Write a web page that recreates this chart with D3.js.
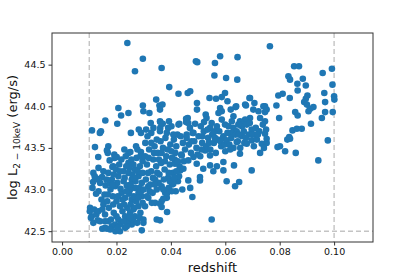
<!DOCTYPE html>
<html>
<head>
<meta charset="utf-8">
<script src="https://cdn.jsdelivr.net/npm/d3@7"></script>
<style>
  html, body { margin: 0; padding: 0; background: #fff; }
  svg { display: block; }
  text { font-family: "DejaVu Sans", sans-serif; }
</style>
</head>
<body>
<div id="chart"></div>
<script>
// ─── data (redshift, log L 2-10 keV) ───────────────────────────────
const sourcesLowZ = [
  [0.0240,44.76],[0.0268,44.42],[0.0297,44.57],
  [0.0207,43.98],[0.0217,43.89],[0.0244,43.92],[0.0159,43.83],[0.0203,43.79],[0.0297,44.01],[0.0299,43.94],
  [0.0110,43.71],[0.0139,43.68],[0.0143,43.70],[0.0253,43.68],[0.0290,43.68],[0.0282,43.72],
  [0.0121,43.51],[0.0170,43.52],[0.0168,43.44],[0.0133,43.39],[0.0201,43.39],[0.0165,43.47],[0.0229,43.48],[0.0244,43.44],[0.0251,43.45],
  [0.0134,43.26],[0.0115,43.20],[0.0121,43.12],[0.0140,43.08],[0.0134,42.98],[0.0156,42.94],[0.0114,43.09],[0.0129,43.13],
  [0.0120,43.16],[0.0112,43.02],[0.0125,42.95],[0.0147,43.15],[0.0152,43.22],[0.0160,43.05],
  [0.0103,42.78],[0.0109,42.68],[0.0115,42.60],[0.0102,42.74],[0.0106,42.66],[0.0118,42.76],[0.0126,42.70],[0.0131,42.63],
  [0.0170,43.20],[0.0183,43.12],[0.0195,43.04],[0.0207,43.16],[0.0225,43.22],[0.0244,43.32],[0.0244,43.20],[0.0256,43.12],
  [0.0268,43.24],[0.0281,43.16],[0.0293,43.08],[0.0268,43.02],[0.0281,42.96],
  [0.0219,42.96],[0.0232,42.90],[0.0256,42.88],[0.0293,42.92],[0.0281,42.80],[0.0268,42.68],
  [0.0133,42.74],[0.0152,42.82],[0.0158,42.70],[0.0140,42.62],[0.0170,42.62],[0.0183,42.56],[0.0158,42.54],[0.0195,42.58],
  [0.0207,42.64],[0.0232,42.68],[0.0250,42.72],[0.0232,42.54],[0.0256,42.58],
  [0.0213,42.50],[0.0293,42.51],[0.0299,42.60],[0.0299,42.64],[0.0148,42.53],[0.0165,42.53],[0.0177,42.52],
  [0.0175,43.35],[0.0188,43.28],[0.0192,43.42],[0.0210,43.30],[0.0218,43.36],[0.0226,43.10],[0.0238,43.05],[0.0250,43.00],
  [0.0262,43.30],[0.0274,43.38],[0.0286,43.28],[0.0290,43.45],[0.0277,43.48],
  [0.0178,43.00],[0.0186,42.92],[0.0200,42.86],[0.0213,42.80],[0.0222,42.74],[0.0240,42.78],[0.0262,42.76],[0.0272,42.86],
  [0.0288,42.72],[0.0296,42.84],[0.0166,42.86],[0.0172,42.78],[0.0190,42.72],[0.0200,42.68],[0.0215,42.58],[0.0242,42.62],
  [0.0260,42.64],[0.0276,42.60],[0.0285,42.66],
  [0.0163,43.12],[0.0176,43.07],[0.0190,43.18],[0.0203,43.08],[0.0215,43.01],[0.0230,43.14],[0.0248,43.26],[0.0258,43.18],
  [0.0270,43.10],[0.0285,43.02],[0.0296,43.20],[0.0296,43.34],[0.0234,43.40],[0.0255,43.36],[0.0222,42.88],[0.0247,42.95],
  [0.0264,42.92],[0.0290,42.98],[0.0193,43.38],[0.0185,43.27],
  [0.0180,42.64],[0.0188,42.82],[0.0205,42.92],[0.0228,42.82],[0.0236,42.98],[0.0252,42.82],[0.0266,42.78],[0.0280,42.90],
  [0.0226,42.62],[0.0238,42.56],[0.0250,42.66],[0.0196,42.50],[0.0204,42.54],[0.0186,43.06],[0.0198,43.24],[0.0212,43.22],
  [0.0236,43.28],[0.0252,43.06],[0.0264,43.14],[0.0278,43.22],[0.0288,43.40],[0.0272,43.52],[0.0158,42.62],[0.0148,42.76],
  [0.0145,42.88],[0.0168,42.94]
];

const sourcesMidZ = [
  [0.0366,44.46],[0.0492,44.54],[0.0497,44.53],[0.0562,44.52],[0.0581,44.60],[0.0560,44.37],
  [0.0394,44.23],[0.0428,44.15],[0.0462,44.16],[0.0471,44.18],[0.0542,44.10],[0.0566,44.09],[0.0587,44.11],[0.0599,44.16],
  [0.0346,44.08],[0.0321,43.92],[0.0358,44.01],[0.0369,44.02],[0.0360,43.96],[0.0496,44.04],[0.0496,43.96],
  [0.0309,43.72],[0.0326,43.80],[0.0328,43.68],[0.0361,43.81],[0.0361,43.74],
  [0.0462,43.86],[0.0456,43.81],[0.0431,43.79],[0.0402,43.76],[0.0489,43.79],[0.0510,43.76],[0.0528,43.90],[0.0531,43.86],
  [0.0581,43.98],[0.0587,43.94],[0.0575,43.92],
  [0.0393,43.82],[0.0390,43.74],[0.0360,43.70],[0.0336,43.74],[0.0428,43.78],[0.0456,43.85],[0.0464,43.80],[0.0522,43.81],
  [0.0544,43.74],[0.0550,43.80],[0.0569,43.76],[0.0587,43.84],[0.0599,43.78],
  [0.0317,43.04],[0.0342,43.12],[0.0348,43.00],[0.0366,43.04],[0.0379,42.96],[0.0385,42.90],[0.0317,42.90],[0.0330,42.84],
  [0.0305,42.80],[0.0342,42.84],[0.0366,42.86],[0.0348,42.64],[0.0360,42.63],[0.0386,42.73],[0.0550,42.64],
  [0.0360,42.83],[0.0366,42.79],
  [0.0305,43.40],[0.0312,43.30],[0.0320,43.48],[0.0328,43.22],[0.0335,43.36],[0.0340,43.52],[0.0346,43.28],[0.0352,43.44],
  [0.0358,43.18],[0.0364,43.32],[0.0371,43.50],[0.0377,43.24],[0.0383,43.40],[0.0390,43.14],[0.0396,43.30],[0.0402,43.46],
  [0.0408,43.20],[0.0414,43.36],[0.0420,43.52],[0.0426,43.10],[0.0432,43.28],[0.0438,43.42],[0.0444,43.56],
  [0.0308,43.12],[0.0316,43.20],[0.0325,43.06],[0.0333,42.96],[0.0338,43.44],[0.0355,43.08],[0.0362,43.58],[0.0374,43.12],
  [0.0380,43.62],[0.0392,43.02],[0.0398,43.54],[0.0405,43.06],[0.0411,43.60],[0.0418,42.98],[0.0424,43.66],[0.0430,43.16],
  [0.0436,43.64],[0.0442,43.00],[0.0448,43.34],
  [0.0464,43.11],[0.0471,43.02],[0.0479,42.91],[0.0507,43.15],[0.0507,43.11],[0.0556,43.22],[0.0569,43.28],[0.0593,43.33],
  [0.0593,43.23],[0.0526,43.47],[0.0544,43.41],[0.0483,43.39],[0.0495,43.31],[0.0519,43.25],[0.0544,43.29],
  [0.0434,43.23],[0.0446,43.25],[0.0409,43.07],[0.0385,42.95],[0.0372,42.89],[0.0440,43.41],[0.0464,43.35],[0.0415,43.31],
  [0.0452,43.48],[0.0458,43.62],[0.0466,43.54],[0.0474,43.44],[0.0480,43.68],[0.0486,43.58],[0.0494,43.50],[0.0502,43.64],
  [0.0508,43.40],[0.0515,43.56],[0.0521,43.70],[0.0530,43.52],[0.0537,43.62],[0.0545,43.48],[0.0552,43.66],[0.0558,43.56],
  [0.0565,43.44],[0.0572,43.60],[0.0578,43.70],[0.0585,43.52],[0.0592,43.62],[0.0535,43.72],[0.0560,43.70],
  [0.0385,43.68],[0.0409,43.66],[0.0458,43.66],[0.0483,43.68],[0.0556,43.68],[0.0593,43.64],[0.0360,43.82],[0.0370,43.79],
  [0.0372,43.00],[0.0396,43.10],[0.0403,42.98],[0.0412,43.14],[0.0420,43.22],[0.0392,43.20],[0.0378,43.34],[0.0388,43.48],
  [0.0404,43.38],[0.0416,43.44],[0.0426,43.34],[0.0350,43.20],[0.0340,43.06],[0.0334,43.14],[0.0322,42.98],[0.0312,42.92],
  [0.0300,43.00],[0.0318,43.38],[0.0328,43.56],[0.0348,43.60],[0.0356,43.36],[0.0366,43.44],[0.0306,43.56],[0.0314,43.64],
  [0.0476,43.58],[0.0498,43.42],[0.0512,43.48],[0.0540,43.56],[0.0562,43.62],[0.0582,43.58],[0.0598,43.54],[0.0470,43.74],
  [0.0516,43.64]
];

const sourcesHighZ = [
  [0.0645,44.59],[0.0603,44.34],[0.0644,44.32],[0.0764,44.72],
  [0.0853,44.48],[0.0871,44.48],[0.0958,44.40],[0.0992,44.45],[0.0832,44.36],[0.0838,44.32],[0.0885,44.33],[0.0865,44.27],
  [0.0896,44.25],[0.0866,44.19],[0.0994,44.26],
  [0.0795,44.13],[0.0811,44.15],[0.0837,44.10],[0.0902,44.13],[0.0896,44.09],[0.0890,44.05],[0.0900,44.02],[0.0964,44.16],
  [0.0967,44.05],[0.1000,44.12],[0.1001,44.08],
  [0.0924,43.99],[0.0912,43.97],[0.0906,43.94],[0.0788,44.01],[0.0746,44.00],[0.0746,43.93],[0.0857,43.93],[0.0866,43.89],
  [0.0798,43.86],[0.0967,43.93],[0.0955,43.86],[0.0995,43.93],[0.0915,43.79],[0.0847,43.71],[0.0863,43.73],[0.0881,43.73],
  [0.0835,43.63],[0.0746,43.67],
  [0.0752,43.56],[0.0792,43.51],[0.0801,43.52],[0.0828,43.60],[0.0838,43.61],[0.0820,43.46],[0.0859,43.44],[0.0977,43.59],
  [0.0942,43.35],
  [0.0689,44.10],[0.0707,44.04],[0.0676,44.01],[0.0638,43.99],[0.0620,43.96],[0.0608,44.06],
  [0.0640,44.00],[0.0673,44.02],[0.0691,44.10],[0.0703,43.96],[0.0722,43.94],[0.0740,44.00],[0.0752,43.96],
  [0.0728,43.86],[0.0746,43.82],[0.0691,43.86],[0.0673,43.84],[0.0654,43.82],[0.0630,43.88],[0.0666,43.78],
  [0.0624,43.82],[0.0630,43.74],[0.0642,43.70],[0.0661,43.76],[0.0679,43.78],[0.0697,43.72],[0.0710,43.66],
  [0.0605,43.10],[0.0651,43.09],[0.0636,43.04],[0.0632,43.29],[0.0654,43.43],[0.0697,43.23],[0.0728,43.44],
  [0.0697,43.59],[0.0734,43.55],[0.0752,43.61],[0.0679,43.55],[0.0642,43.57],[0.0605,43.59],[0.0624,43.68],
  [0.0600,43.46],[0.0608,43.68],[0.0615,43.54],[0.0622,43.62],[0.0630,43.50],[0.0638,43.66],[0.0646,43.58],[0.0655,43.50],
  [0.0662,43.64],[0.0670,43.56],[0.0686,43.66],[0.0705,43.52],[0.0716,43.60],[0.0742,43.50],
  [0.0612,43.76],[0.0648,43.78],[0.0668,43.70],[0.0690,43.80],[0.0712,43.74],[0.0725,43.70],[0.0738,43.78],[0.0750,43.72],
  [0.0618,43.48],[0.0650,43.66],[0.0676,43.62],[0.0700,43.66],[0.0720,43.66]
];

const xTicks = [0.00, 0.02, 0.04, 0.06, 0.08, 0.10];
const yTicks = [42.5, 43.0, 43.5, 44.0, 44.5];
const zCuts  = [0.01, 0.10];   // vertical dashed lines
const lCut   = 42.5;           // horizontal dashed line

// ─── layout ────────────────────────────────────────────────────────
const width  = 415;
const height = 277;
const margin = { top: 33, right: 42, bottom: 35, left: 52 };

const svg = d3.select("#chart")
  .append("svg")
  .attr("width", width)
  .attr("height", height);

const x = d3.scaleLinear()
  .domain([-0.0037, 0.1143])
  .range([margin.left, width - margin.right]);

const y = d3.scaleLinear()
  .domain([42.37, 44.88])
  .range([height - margin.bottom, margin.top]);

// ─── reference cuts ───────────────────────────────────────────────
const cutColor = "#c4c4c4";

svg.selectAll("line.zcut")
  .data(zCuts)
  .join("line")
  .attr("class", "zcut")
  .attr("x1", d => x(d)).attr("x2", d => x(d))
  .attr("y1", margin.top).attr("y2", height - margin.bottom)
  .attr("stroke", cutColor)
  .attr("stroke-width", 1.4)
  .attr("stroke-dasharray", "5,3");

svg.append("line")
  .attr("x1", margin.left).attr("x2", width - margin.right)
  .attr("y1", y(lCut)).attr("y2", y(lCut))
  .attr("stroke", cutColor)
  .attr("stroke-width", 1.4)
  .attr("stroke-dasharray", "5,3");

// ─── points ───────────────────────────────────────────────────────
const allSources = [...sourcesLowZ, ...sourcesMidZ, ...sourcesHighZ];

svg.append("g")
  .selectAll("circle")
  .data(allSources)
  .join("circle")
  .attr("cx", d => x(d[0]))
  .attr("cy", d => y(d[1]))
  .attr("r", 3.3)
  .attr("fill", "#1f77b4");

// ─── axes ─────────────────────────────────────────────────────────
const xAxis = svg.append("g")
  .attr("transform", `translate(0, ${height - margin.bottom})`)
  .call(d3.axisBottom(x).tickValues(xTicks).tickFormat(d3.format(".2f")).tickSize(3.5).tickPadding(3));

const yAxis = svg.append("g")
  .attr("transform", `translate(${margin.left}, 0)`)
  .call(d3.axisLeft(y).tickValues(yTicks).tickFormat(d3.format(".1f")).tickSize(3.5).tickPadding(3));

[xAxis, yAxis].forEach(g => {
  g.select(".domain").remove();
  g.selectAll(".tick line").attr("stroke", "#333");
  g.selectAll(".tick text")
    .attr("fill", "#111")
    .style("font-size", "9.5px")
    .style("font-family", "DejaVu Sans, sans-serif");
});

// frame
svg.append("rect")
  .attr("x", margin.left)
  .attr("y", margin.top)
  .attr("width", width - margin.left - margin.right)
  .attr("height", height - margin.top - margin.bottom)
  .attr("fill", "none")
  .attr("stroke", "#333")
  .attr("stroke-width", 1);

// ─── labels ───────────────────────────────────────────────────────
svg.append("text")
  .attr("x", (margin.left + width - margin.right) / 2)
  .attr("y", 272)
  .attr("text-anchor", "middle")
  .style("font-size", "13px")
  .attr("fill", "#111")
  .text("redshift");

const yLabel = svg.append("text")
  .attr("transform", `translate(17, ${(margin.top + height - margin.bottom) / 2}) rotate(-90)`)
  .attr("text-anchor", "middle")
  .style("font-size", "13px")
  .attr("fill", "#111");

yLabel.append("tspan").text("log L");
yLabel.append("tspan")
  .attr("dy", 3)
  .style("font-size", "9px")
  .text("2 \u2212 10keV");
yLabel.append("tspan")
  .attr("dy", -3)
  .text(" (erg/s)");
</script>
</body>
</html>
